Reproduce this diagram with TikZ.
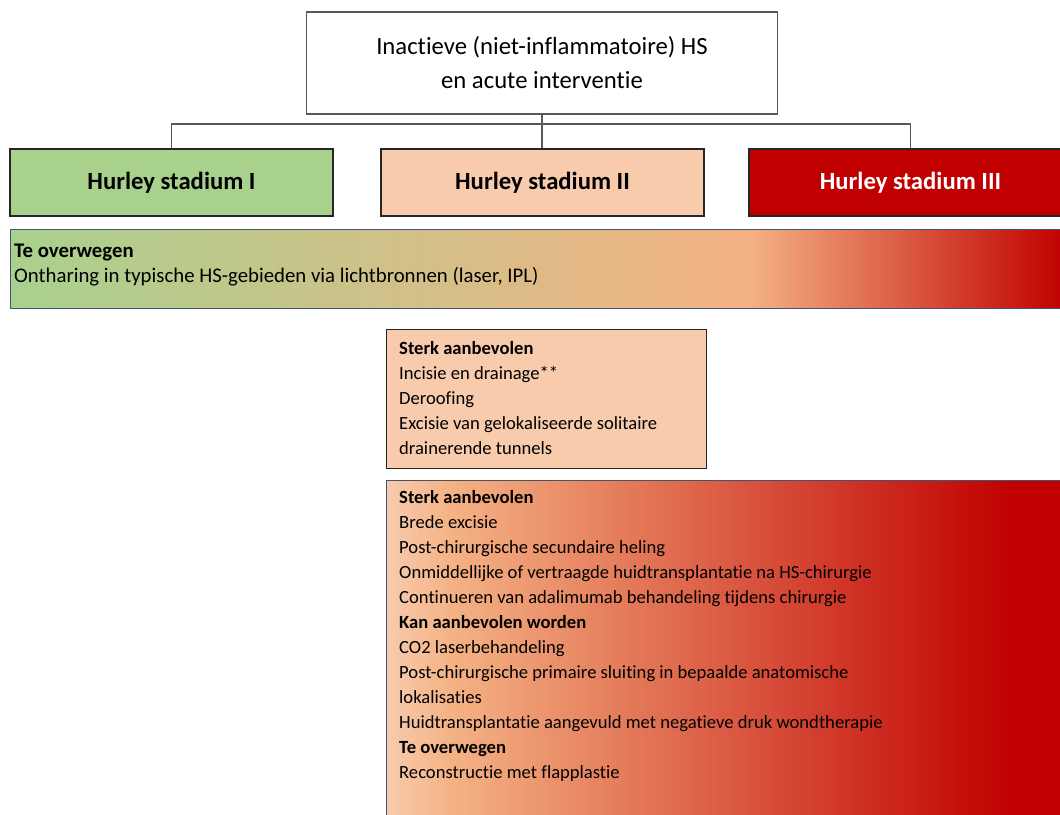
\documentclass[tikz,border=0pt]{standalone}
\usepackage{fontspec}
\setmainfont{Carlito}[Ligatures=CommonOff]

\definecolor{hsgreen}{HTML}{A9D18E}
\definecolor{hspeach}{HTML}{F8CBAD}
\definecolor{hsorange}{HTML}{F4B183}
\definecolor{hsred}{HTML}{C00000}
\definecolor{hsline}{HTML}{44546A}
\pgfdeclarehorizontalshading{barfade}{100bp}{color(0bp)=(hsgreen); color(25bp)=(hsgreen); color(60bp)=(hsorange); color(75bp)=(hsred); color(100bp)=(hsred)}
\pgfdeclarehorizontalshading{boxfade}{100bp}{color(0bp)=(hspeach); color(25bp)=(hspeach); color(30bp)=(hsorange); color(71bp)=(hsred); color(100bp)=(hsred)}

\begin{document}
\begin{tikzpicture}[x=1pt,y=-1pt]
	\tikzstyle{every node}=[inner sep=0pt]
	\tikzstyle{stage}=[draw=black!85,line width=1.3pt,minimum width=323pt,minimum height=67pt,
		font=\fontsize{24.7}{30}\selectfont\bfseries]
	\tikzstyle{panel}=[draw=hsline,line width=1.3pt,anchor=north west]
	\tikzstyle{list}=[anchor=north west,align=left,font=\fontsize{18.6}{25}\selectfont]
	\tikzstyle{conn}=[draw=black!65,line width=1.2pt]
	\clip (0,0) rectangle (1060,814);
	\node[draw=black!65,line width=1.3pt,minimum width=471pt,minimum height=102pt,align=center,
		font=\fontsize{24.7}{34}\selectfont] (root) at (542,63) {Inactieve (niet-inflammatoire) HS\\en acute interventie};
	\node[stage,fill=hsgreen] (st1) at (171.5,182.5) {Hurley stadium I};
	\node[stage,fill=hspeach] (st2) at (542.5,182.5) {Hurley stadium II};
	\node[stage,fill=hsred,text=white] (st3) at (910.5,182.5) {Hurley stadium III};
	\coordinate (hub) at (542,124);
	\draw[conn] (root.south) -- (root.south |- st2.north);
	\draw[conn] (st1.north) |- (hub) -| (st3.north);
	\node[panel,shading=barfade,minimum width=1055pt,minimum height=79pt] (bar) at (10,229) {};
	\node[anchor=north west,align=left,font=\fontsize{20.8}{25}\selectfont] (bartext) at (14,244)
		{\textbf{Te overwegen}\\Ontharing in typische HS-gebieden via lichtbronnen (laser, IPL)};
	\node[draw=black!85,line width=1.3pt,fill=hspeach,anchor=north west,minimum width=320pt,minimum height=139pt] (box2) at (386,329) {};
	\node[list] (list2) at (399,341) {\textbf{Sterk aanbevolen}\\Incisie en drainage**\\Deroofing\\
		Excisie van gelokaliseerde solitaire\\drainerende tunnels};
	\node[panel,shading=boxfade,minimum width=680pt,minimum height=345pt] (box3) at (386,480) {};
	\node[list] (list3) at (399,490) {\textbf{Sterk aanbevolen}\\Brede excisie\\Post-chirurgische secundaire heling\\
		Onmiddellijke of vertraagde huidtransplantatie na HS-chirurgie\\
		Continueren van adalimumab behandeling tijdens chirurgie\\
		\textbf{Kan aanbevolen worden}\\CO2 laserbehandeling\\
		Post-chirurgische primaire sluiting in bepaalde anatomische\\lokalisaties\\
		Huidtransplantatie aangevuld met negatieve druk wondtherapie\\
		\textbf{Te overwegen}\\Reconstructie met flapplastie};
\end{tikzpicture}
\end{document}
